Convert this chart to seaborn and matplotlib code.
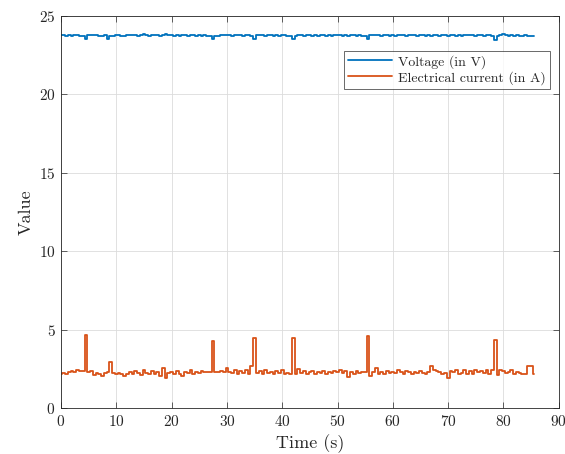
import numpy as np
import pandas as pd
import matplotlib
matplotlib.use("Agg")
import matplotlib.pyplot as plt
import seaborn as sns

# ---- data (sampled every 0.5 s) ----
time_step = 0.5
voltage = [
    23.78, 23.76, 23.75, 23.77, 23.74, 23.76, 23.78, 23.75, 23.72, 23.55,
    23.76, 23.78, 23.80, 23.77, 23.75, 23.73, 23.76, 23.55, 23.70, 23.74,
    23.76, 23.78, 23.75, 23.73, 23.77, 23.80, 23.78, 23.76, 23.75, 23.79,
    23.82, 23.77, 23.75, 23.80, 23.78, 23.76, 23.74, 23.79, 23.83, 23.76,
    23.78, 23.75, 23.77, 23.74, 23.76, 23.78, 23.75, 23.77, 23.76, 23.74,
    23.76, 23.75, 23.77, 23.74, 23.72, 23.50, 23.72, 23.75, 23.78, 23.76,
    23.80, 23.77, 23.75, 23.79, 23.76, 23.78, 23.74, 23.76, 23.77, 23.72,
    23.55, 23.76, 23.80, 23.77, 23.75, 23.78, 23.76, 23.74, 23.78, 23.75,
    23.77, 23.76, 23.74, 23.72, 23.55, 23.74, 23.78, 23.76, 23.75, 23.77,
    23.76, 23.74, 23.77, 23.75, 23.78, 23.76, 23.74, 23.77, 23.75, 23.76,
    23.80, 23.76, 23.74, 23.77, 23.75, 23.78, 23.76, 23.74, 23.77, 23.72,
    23.74, 23.52, 23.76, 23.78, 23.80, 23.77, 23.75, 23.78, 23.76, 23.74,
    23.77, 23.75, 23.78, 23.80, 23.76, 23.74, 23.77, 23.79, 23.76, 23.75,
    23.78, 23.76, 23.74, 23.77, 23.72, 23.76, 23.78, 23.75, 23.77, 23.76,
    23.74, 23.78, 23.76, 23.75, 23.77, 23.74, 23.76, 23.78, 23.80, 23.76,
    23.75, 23.77, 23.76, 23.74, 23.78, 23.76, 23.72, 23.48, 23.70, 23.76,
    23.85, 23.78, 23.75, 23.77, 23.74, 23.76, 23.75, 23.73, 23.76, 23.74,
    23.72, 23.75,
]
current = [
    2.20, 2.25, 2.20, 2.30, 2.35, 2.30, 2.40, 2.35, 2.35, 4.65,
    2.30, 2.35, 2.10, 2.25, 2.20, 2.05, 2.25, 2.30, 2.95, 2.25,
    2.15, 2.25, 2.20, 2.05, 2.15, 2.30, 2.20, 2.35, 2.25, 2.10,
    2.40, 2.25, 2.20, 2.35, 2.15, 2.30, 2.05, 2.55, 1.90, 2.25,
    2.30, 2.15, 2.35, 2.20, 2.05, 2.30, 2.25, 2.40, 2.20, 2.30,
    2.25, 2.35, 2.30, 2.30, 2.30, 4.30, 2.30, 2.30, 2.35, 2.30,
    2.55, 2.30, 2.25, 2.40, 2.20, 2.35, 2.25, 2.45, 2.20, 2.70,
    4.50, 2.25, 2.35, 2.20, 2.40, 2.25, 2.30, 2.15, 2.35, 2.25,
    2.40, 2.20, 2.25, 2.20, 4.50, 2.20, 2.50, 2.25, 2.35, 2.20,
    2.30, 2.35, 2.20, 2.30, 2.25, 2.35, 2.20, 2.30, 2.25, 2.35,
    2.30, 2.40, 2.25, 2.35, 2.00, 2.30, 2.20, 2.35, 2.25, 2.30,
    2.30, 4.60, 2.05, 2.30, 2.55, 2.20, 2.30, 2.15, 2.35, 2.25,
    2.30, 2.25, 2.40, 2.30, 2.15, 2.35, 2.30, 2.20, 2.30, 2.25,
    2.35, 2.25, 2.20, 2.30, 2.70, 2.40, 2.35, 2.30, 2.20, 2.25,
    1.95, 2.35, 2.30, 2.40, 2.20, 2.25, 2.40, 2.20, 2.35, 2.15,
    2.40, 2.30, 2.35, 2.25, 2.45, 2.20, 2.40, 4.35, 2.10, 2.40,
    2.35, 2.25, 2.30, 2.40, 2.20, 2.30, 2.25, 2.20, 2.20, 2.70,
    2.70, 2.15,
]
series_names = ["Voltage (in V)", "Electrical current (in A)"]
colors = ["#0072BD", "#D95319"]
x_ticks = [0, 10, 20, 30, 40, 50, 60, 70, 80, 90]
y_ticks = [0, 5, 10, 15, 20, 25]

time = np.arange(len(voltage)) * time_step
df = pd.DataFrame({
    "Time": np.concatenate([time, time]),
    "Value": np.concatenate([voltage, current]),
    "Series": [series_names[0]] * len(voltage) + [series_names[1]] * len(current),
})

sns.set_theme(style="white")
plt.rcParams["font.family"] = ["cmr10", "DejaVu Serif"]
plt.rcParams["axes.formatter.use_mathtext"] = True
plt.rcParams["mathtext.fontset"] = "cm"

fig = plt.figure(figsize=(5.65, 4.54), dpi=100)
ax = fig.add_axes([0.108, 0.101, 0.881, 0.864])

sns.lineplot(data=df, x="Time", y="Value", hue="Series", palette=colors,
             linewidth=1.3, ax=ax, estimator=None, sort=False,
             drawstyle="steps-mid")

ax.set_xlim(0, 90)
ax.set_ylim(0, 25)
ax.set_xticks(x_ticks)
ax.set_yticks(y_ticks)
ax.grid(True, color="#dcdcdc", linewidth=0.6)
ax.set_axisbelow(True)
for s in ax.spines.values():
    s.set_color("#262626")
    s.set_linewidth(0.6)
ax.tick_params(direction="in", length=4, width=0.5, colors="#262626",
               labelsize=11, top=True, right=True, bottom=True, left=True,
               labeltop=False, labelright=False, pad=4)
ax.set_xlabel("Time (s)", fontsize=13, color="#262626")
ax.set_ylabel("Value", fontsize=13, color="#262626")

leg = ax.legend(loc="upper right", bbox_to_anchor=(0.982, 0.911),
                fontsize=10, frameon=True, fancybox=False, borderpad=0.3,
                handlelength=3.2, handletextpad=0.4, labelspacing=0.15,
                borderaxespad=0)
leg.get_frame().set_edgecolor("#262626")
leg.get_frame().set_linewidth(0.6)
for h in leg.get_lines():
    h.set_linewidth(1.3)
    h.set_drawstyle("default")

fig.savefig("out.png", dpi=100)
